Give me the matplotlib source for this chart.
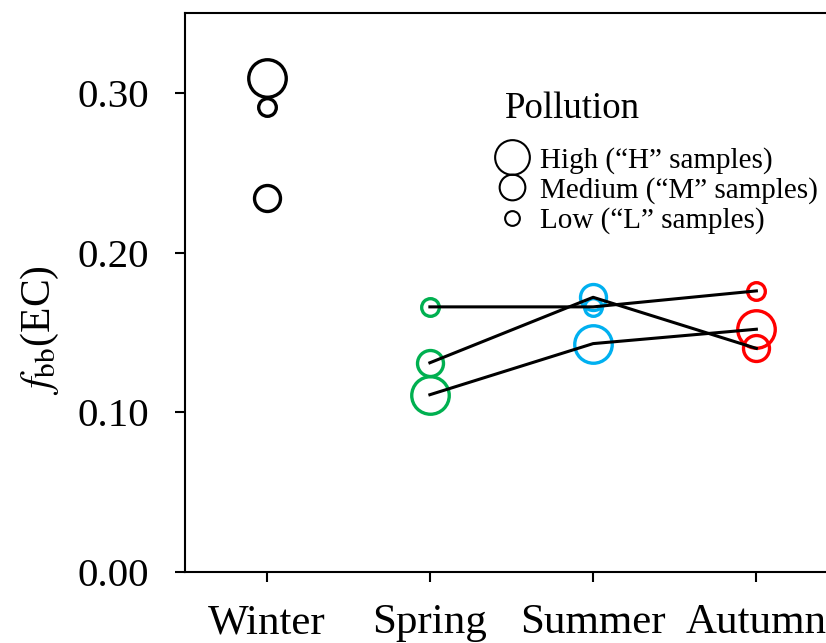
import numpy as np
import matplotlib
matplotlib.use("Agg")
import matplotlib.pyplot as plt
from matplotlib.lines import Line2D

plt.rcParams['font.family'] = ['Liberation Serif', 'DejaVu Serif']
plt.rcParams['mathtext.fontset'] = 'stix'

# f_bb(EC) per season, one list per pollution level
seasons = ['Winter', 'Spring', 'Summer', 'Autumn']
season_colors = ['black', '#00B050', '#00B0F0', '#FF0000']
high = [0.309, 0.111, 0.143, 0.152]
medium = [0.234, 0.131, 0.172, 0.140]
low = [0.291, 0.166, 0.166, 0.176]
yticks = [0.0, 0.1, 0.2, 0.3]

# marker size (pt) for data circles and legend circles
levels = [('High', high, 27.0, 25.0), ('Medium', medium, 18.7, 18.5), ('Low', low, 12.7, 10.6)]
legend_labels = ['High (\u201cH\u201d samples)', 'Medium (\u201cM\u201d samples)', 'Low (\u201cL\u201d samples)']

fig = plt.figure(figsize=(8.26, 6.43), dpi=100)
ax = fig.add_axes([185/826, 71/643, 653/826, 559/643])

x = np.arange(len(seasons))

# hollow circles, coloured by season
for name, vals, ms, lms in levels:
    for i in range(len(seasons)):
        ax.plot(x[i], vals[i], 'o', ms=ms, mfc='none', mec=season_colors[i],
                mew=2.4, zorder=2)

# black lines joining spring -> autumn for each pollution level
for name, vals, ms, lms in levels:
    ax.plot(x[1:], vals[1:], '-', color='black', lw=2.2, zorder=3)

ax.set_xlim(-0.5, 3.5)
ax.set_ylim(0, 0.35)
ax.set_xticks(x)
ax.set_xticklabels(seasons)
ax.set_yticks(yticks)
ax.set_yticklabels(['%.2f' % v for v in yticks])

for s in ax.spines.values():
    s.set_linewidth(1.5)
ax.tick_params(axis='both', direction='out', length=7, width=1.5)
ax.tick_params(axis='y', pad=19, labelsize=29.5)
ax.tick_params(axis='x', pad=16, labelsize=31)

ax.set_ylabel(r'$f_{\mathrm{bb}}$(EC)', fontsize=30, va='center')
ax.yaxis.set_label_coords(-0.222, 0.433)

# legend: title as separate text so its gap to the entries can be set
ax.text(0.490, 0.812, 'Pollution', transform=ax.transAxes, fontsize=26.5,
        ha='left', va='baseline')
handles = [Line2D([], [], ls='none', marker='o', ms=lms, mfc='none', mec='black', mew=1.5)
           for name, vals, ms, lms in levels]
leg = ax.legend(handles, legend_labels, loc='upper left',
                bbox_to_anchor=(0.478, 0.761), frameon=False, fontsize=21,
                handlelength=1.0, handletextpad=0.46, labelspacing=0.12,
                borderpad=0, borderaxespad=0)

fig.savefig('out.png', dpi=100)
